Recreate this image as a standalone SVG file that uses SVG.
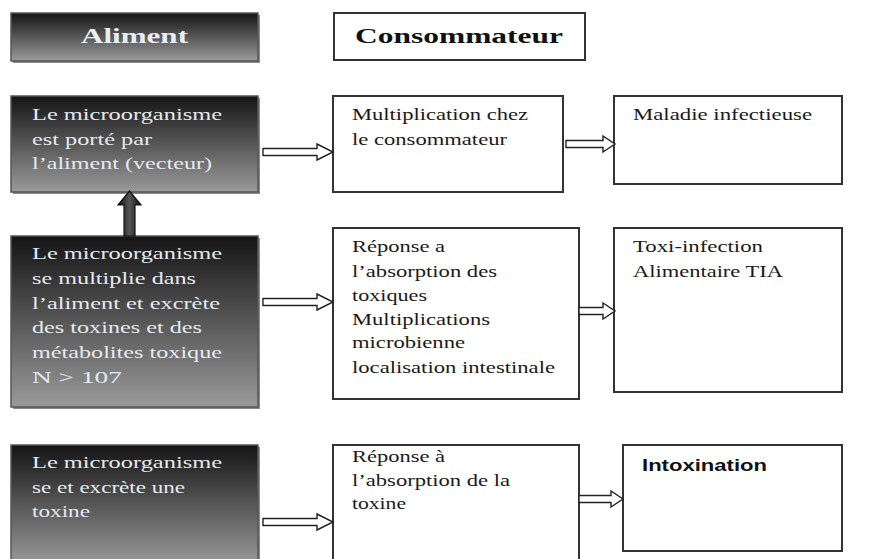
<svg xmlns="http://www.w3.org/2000/svg" width="880" height="559" viewBox="0 0 880 559">
<defs>
<linearGradient id="dark" x1="0" y1="0" x2="0" y2="1">
<stop offset="0" stop-color="#141414"/>
<stop offset="1" stop-color="#9a9a9a"/>
</linearGradient>
<linearGradient id="upg" x1="0" y1="0" x2="1" y2="0">
<stop offset="0" stop-color="#111"/>
<stop offset="0.5" stop-color="#555"/>
<stop offset="1" stop-color="#111"/>
</linearGradient>
</defs>
<style>
.dk{fill:url(#dark);stroke:#555;stroke-width:1.5}
.sh{fill:#8a8a8a}
.wb{fill:#fff;stroke:#333;stroke-width:2}
.lt{font-family:"Liberation Serif","Times New Roman",serif;font-size:17px;fill:#e4eaf0}
.bk{font-family:"Liberation Serif","Times New Roman",serif;font-size:17px;fill:#1a1a1a}
.hd{font-family:"Liberation Serif","Times New Roman",serif;font-size:22px;font-weight:bold}
.ar{fill:#fff;stroke:#222;stroke-width:1.4}
</style>

<g id="aliment">
<rect class="sh" x="13" y="15" width="247" height="48"/>
<rect class="dk" x="11" y="13" width="247" height="48"/>
<text class="hd" x="81" y="43" fill="#e8eef5" textLength="107" lengthAdjust="spacingAndGlyphs">Aliment</text>
</g>

<g id="consommateur">
<rect class="wb" x="334" y="13" width="251" height="47"/>
<text class="hd" x="355" y="43" fill="#111" textLength="208" lengthAdjust="spacingAndGlyphs">Consommateur</text>
</g>

<g id="a1">
<rect class="sh" x="13" y="98" width="247" height="96"/>
<rect class="dk" x="11" y="96" width="247" height="96"/>
<text class="lt" x="32" y="120" textLength="190" lengthAdjust="spacingAndGlyphs">Le microorganisme</text>
<text class="lt" x="32" y="145" textLength="120" lengthAdjust="spacingAndGlyphs">est porté par</text>
<text class="lt" x="32" y="169" textLength="180" lengthAdjust="spacingAndGlyphs">l’aliment (vecteur)</text>
</g>

<g id="a2">
<rect class="sh" x="13" y="238" width="247" height="171"/>
<rect class="dk" x="11" y="236" width="247" height="171"/>
<text class="lt" x="32" y="259" textLength="190" lengthAdjust="spacingAndGlyphs">Le microorganisme</text>
<text class="lt" x="32" y="284" textLength="164" lengthAdjust="spacingAndGlyphs">se multiplie dans</text>
<text class="lt" x="32" y="309" textLength="188" lengthAdjust="spacingAndGlyphs">l’aliment et excrète</text>
<text class="lt" x="32" y="333" textLength="170" lengthAdjust="spacingAndGlyphs">des toxines et des</text>
<text class="lt" x="32" y="358" textLength="190" lengthAdjust="spacingAndGlyphs">métabolites  toxique</text>
<text class="lt" x="32" y="383" textLength="90" lengthAdjust="spacingAndGlyphs">N &gt;  107</text>
</g>

<g id="a3">
<rect class="sh" x="13" y="447" width="247" height="120"/>
<rect class="dk" x="11" y="445" width="247" height="120"/>
<text class="lt" x="32" y="468" textLength="190" lengthAdjust="spacingAndGlyphs">Le microorganisme</text>
<text class="lt" x="32" y="493" textLength="153" lengthAdjust="spacingAndGlyphs">se et excrète une</text>
<text class="lt" x="32" y="517" textLength="58" lengthAdjust="spacingAndGlyphs">toxine</text>
</g>

<g id="c1">
<rect class="wb" x="333" y="96" width="230" height="96"/>
<text class="bk" x="352" y="120" textLength="176" lengthAdjust="spacingAndGlyphs">Multiplication chez</text>
<text class="bk" x="352" y="145" textLength="155" lengthAdjust="spacingAndGlyphs">le consommateur</text>
</g>

<g id="c2">
<rect class="wb" x="614" y="96" width="228" height="88"/>
<text class="bk" x="633" y="120" textLength="179" lengthAdjust="spacingAndGlyphs">Maladie infectieuse</text>
</g>

<g id="d1">
<rect class="wb" x="333" y="228" width="246" height="171"/>
<text class="bk" x="352" y="252" textLength="93" lengthAdjust="spacingAndGlyphs">Réponse a</text>
<text class="bk" x="352" y="277" textLength="145" lengthAdjust="spacingAndGlyphs">l’absorption des</text>
<text class="bk" x="352" y="301" textLength="75" lengthAdjust="spacingAndGlyphs">toxiques</text>
<text class="bk" x="352" y="325" textLength="138" lengthAdjust="spacingAndGlyphs">Multiplications</text>
<text class="bk" x="352" y="348" textLength="113" lengthAdjust="spacingAndGlyphs">microbienne</text>
<text class="bk" x="352" y="373" textLength="203" lengthAdjust="spacingAndGlyphs">localisation intestinale</text>
</g>

<g id="d2">
<rect class="wb" x="614" y="228" width="228" height="164"/>
<text class="bk" x="633" y="252" textLength="130" lengthAdjust="spacingAndGlyphs">Toxi-infection</text>
<text class="bk" x="633" y="277" textLength="150" lengthAdjust="spacingAndGlyphs">Alimentaire TIA</text>
</g>

<g id="e1">
<rect class="wb" x="333" y="445" width="246" height="125"/>
<text class="bk" x="352" y="462" textLength="93" lengthAdjust="spacingAndGlyphs">Réponse à</text>
<text class="bk" x="352" y="486" textLength="158" lengthAdjust="spacingAndGlyphs">l’absorption de la</text>
<text class="bk" x="352" y="509" textLength="54" lengthAdjust="spacingAndGlyphs">toxine</text>
</g>

<g id="e2">
<rect class="wb" x="623" y="445" width="219" height="106"/>
<text x="642" y="471" font-family="'Liberation Sans',Arial,sans-serif" font-size="17" font-weight="bold" fill="#111" textLength="125" lengthAdjust="spacingAndGlyphs">Intoxination</text>
</g>

<g id="connectors">
<polygon class="ar" points="263,148.5 317,148.5 317,144 333,152 317,160 317,155.5 263,155.5"/>
<polygon class="ar" points="566,140.5 603,140.5 603,136 615,144 603,152 603,147.5 566,147.5"/>
<polygon class="ar" points="263,298.5 317,298.5 317,294 333,302 317,310 317,305.5 263,305.5"/>
<polygon class="ar" points="579,307.5 603,307.5 603,303 615,311 603,319 603,314.5 579,314.5"/>
<polygon class="ar" points="263,518.5 317,518.5 317,514 333,522 317,530 317,525.5 263,525.5"/>
<polygon class="ar" points="579,495.5 611,495.5 611,491 623,499 611,507 611,502.5 579,502.5"/>
<polygon points="124,236 124,205 118,205 129.5,191 141,205 135,205 135,236" fill="url(#upg)" stroke="#111" stroke-width="1.2"/>
</g>
</svg>
